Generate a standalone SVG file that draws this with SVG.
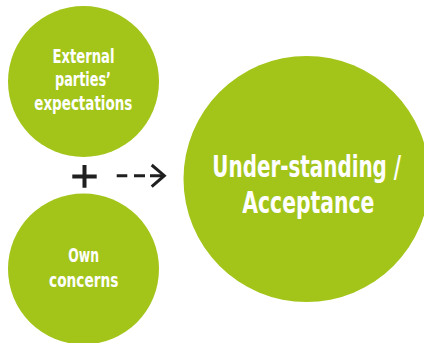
<svg xmlns="http://www.w3.org/2000/svg" width="424" height="343" viewBox="0 0 424 343">
  <style>
    .bubble { fill: #a3c51a; }
    .label { fill: #ffffff; font-family: "Liberation Sans Narrow", "DejaVu Sans Condensed", "Liberation Sans", sans-serif; font-weight: bold; text-anchor: middle; }
    .small { font-size: 19px; }
    .large { font-size: 30px; }
    .ink { stroke: #1f1f1f; fill: none; }
  </style>
  <rect width="424" height="343" fill="#ffffff"/>

  <g id="external-expectations">
    <circle class="bubble" cx="83.5" cy="81.5" r="75.5"/>
    <text class="label small" x="83.5" y="62.7" textLength="62" lengthAdjust="spacingAndGlyphs">External</text>
    <text class="label small" x="83" y="86" textLength="56" lengthAdjust="spacingAndGlyphs">parties’</text>
    <text class="label small" x="83.3" y="110" textLength="98" lengthAdjust="spacingAndGlyphs">expectations</text>
  </g>

  <g id="own-concerns">
    <circle class="bubble" cx="83.5" cy="269" r="75.5"/>
    <text class="label small" x="83.7" y="262.3" textLength="30.7" lengthAdjust="spacingAndGlyphs">Own</text>
    <text class="label small" x="83.7" y="286.7" textLength="69.3" lengthAdjust="spacingAndGlyphs">concerns</text>
  </g>

  <g id="understanding-acceptance">
    <circle class="bubble" cx="306.5" cy="179" r="123"/>
    <text class="label large" x="306.7" y="176.7" textLength="188.7" lengthAdjust="spacingAndGlyphs">Under-standing /</text>
    <text class="label large" x="308.3" y="213.3" textLength="132" lengthAdjust="spacingAndGlyphs">Acceptance</text>
  </g>

  <g id="connectors">
    <!-- plus sign between the two input bubbles -->
    <path class="ink" stroke-width="4" d="M72.3 176.5 H96.7 M84.5 165 V187.7"/>
    <!-- dashed arrow towards the result bubble -->
    <path class="ink" stroke-width="3" d="M116.7 175.7 H127.3 M134 175.7 H145 M150 175.7 H163"/>
    <path class="ink" stroke-width="3" d="M151.7 165 L164.3 175.7 L151.7 186.7"/>
  </g>
</svg>
